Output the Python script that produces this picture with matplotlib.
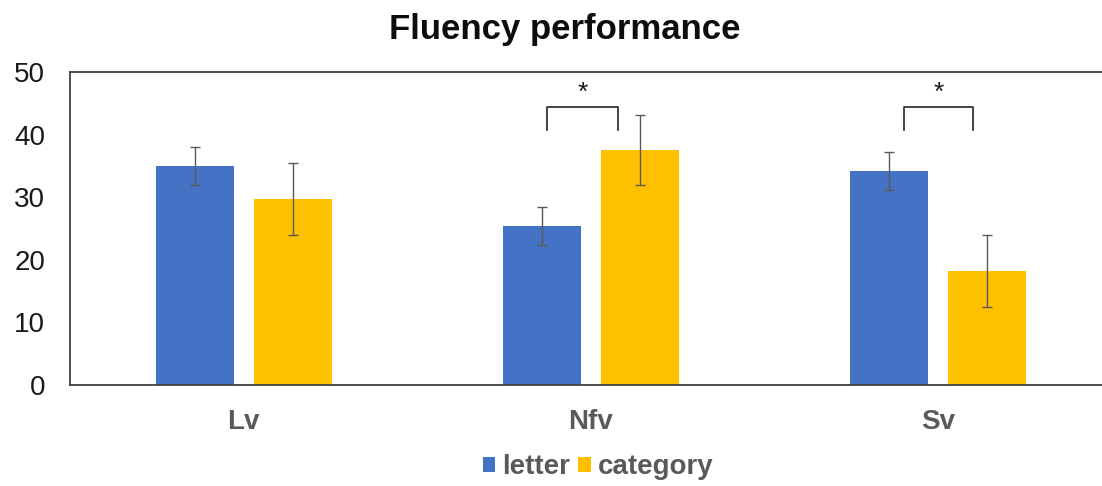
import matplotlib
matplotlib.use("Agg")
import matplotlib.pyplot as plt
import numpy as np

plt.rcParams['font.family'] = ['Liberation Sans', 'DejaVu Sans']

categories = ["Lv", "Nfv", "Sv"]
series_names = ["letter", "category"]
letter = [35.0, 25.4, 34.2]
category = [29.7, 37.5, 18.2]
letter_err = [3.0, 3.0, 3.0]
category_err = [5.7, 5.6, 5.7]
yticks = [0, 10, 20, 30, 40, 50]
# significance brackets: (category index, x-offset left, x-offset right)
sig_pairs = [(1, -0.127, 0.078), (2, -0.10, 0.10)]

fig = plt.figure(figsize=(11.02, 4.86), dpi=100)
ax = fig.add_axes([70/1102, 1-385/486, 1042/1102, 313/486])

x = np.arange(len(categories))
w = 0.225
off = 0.141
ekw = dict(ecolor='#595959', elinewidth=1, capsize=3.5, capthick=1)
ax.bar(x - off, letter, w, color='#4472C4', yerr=letter_err, error_kw=ekw, label=series_names[0])
ax.bar(x + off, category, w, color='#FFC000', yerr=category_err, error_kw=ekw, label=series_names[1])

ax.set_xlim(-0.5, 2.5)
ax.set_ylim(0, 50)
ax.set_yticks(yticks)
ax.set_yticklabels([str(t) for t in yticks], fontsize=20, color='#1a1a1a')
ax.set_xticks(x)
ax.set_xticklabels(categories, fontsize=20, fontweight='bold', color='#595959')
ax.tick_params(axis='both', length=0)
ax.tick_params(axis='x', pad=17)
ax.tick_params(axis='y', pad=18)
for s in ['left', 'top', 'bottom']:
    ax.spines[s].set_color('#404040')
    ax.spines[s].set_linewidth(1.3)
ax.spines['right'].set_visible(False)

for i, l, r in sig_pairs:
    xl, xr = x[i] + l, x[i] + r
    ax.plot([xl, xl, xr, xr], [40.7, 44.4, 44.4, 40.7], color='#262626', lw=1.2, clip_on=False)
    ax.text((xl + xr) / 2, 46.6, '*', ha='center', va='center', fontsize=19, color='#1a1a1a')

fig.text(565/1102, 1-29/486, "Fluency performance", ha='center', va='center',
         fontsize=25, fontweight='bold', color='#0d0d0d')

leg = fig.legend(loc='center', bbox_to_anchor=(598/1102, 1-467/486), ncol=2, frameon=False,
                 handlelength=0.45, handleheight=0.45, handletextpad=0.25,
                 columnspacing=0.3, prop={'weight': 'bold', 'size': 20})
for t in leg.get_texts():
    t.set_color('#595959')

fig.savefig("out.png", dpi=100)
